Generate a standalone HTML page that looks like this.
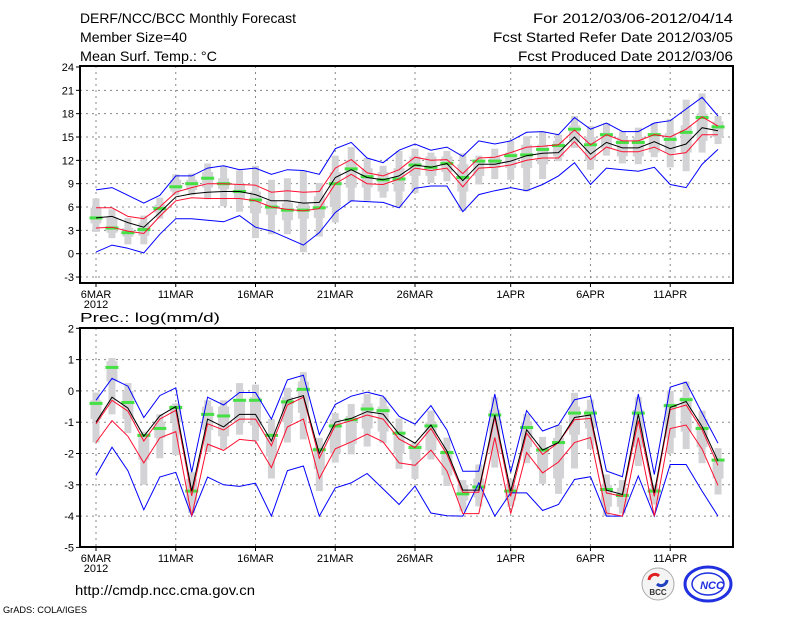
<!DOCTYPE html>
<html><head><meta charset="utf-8"><style>
html,body{margin:0;padding:0;background:#fff;}
svg{display:block;font-family:"Liberation Sans",sans-serif;}
</style></head><body>
<svg id="c" width="800" height="618" viewBox="0 0 800 618" xmlns="http://www.w3.org/2000/svg">
<text x="80" y="23" font-size="14" textLength="216" lengthAdjust="spacingAndGlyphs">DERF/NCC/BCC Monthly Forecast</text>
<text x="80" y="42" font-size="14" textLength="107" lengthAdjust="spacingAndGlyphs">Member Size=40</text>
<text x="80" y="61" font-size="14" textLength="137" lengthAdjust="spacingAndGlyphs">Mean Surf. Temp.: °C</text>
<text x="533" y="23" font-size="14" textLength="200" lengthAdjust="spacingAndGlyphs">For 2012/03/06-2012/04/14</text>
<text x="493" y="42" font-size="14" textLength="240" lengthAdjust="spacingAndGlyphs">Fcst Started Refer Date 2012/03/05</text>
<text x="518" y="61" font-size="14" textLength="215" lengthAdjust="spacingAndGlyphs">Fcst Produced Date 2012/03/06</text>
<text x="80" y="322" font-size="13" textLength="140" lengthAdjust="spacingAndGlyphs">Prec.: log(mm/d)</text>
<text x="75" y="595" font-size="14" textLength="180" lengthAdjust="spacingAndGlyphs">http://cmdp.ncc.cma.gov.cn</text>
<text x="3" y="613" font-size="9" textLength="84" lengthAdjust="spacingAndGlyphs">GrADS: COLA/IGES</text>
<g>
<circle cx="658" cy="584" r="16" fill="#f4f4f4" stroke="#aaa" stroke-width="1"/>
<path d="M649 580 a6 6 0 0 1 10 -4" stroke="#e02020" stroke-width="3" fill="none"/>
<path d="M667 580 a6 6 0 0 1 -10 4" stroke="#2040c0" stroke-width="3" fill="none"/>
<text x="658" y="595" font-size="8" font-weight="bold" text-anchor="middle" fill="#333">BCC</text>
</g>
<g>
<ellipse cx="708" cy="584" rx="23" ry="17" fill="#fff" stroke="#2030e0" stroke-width="3"/>
<ellipse cx="708" cy="584" rx="16" ry="11" fill="none" stroke="#2030e0" stroke-width="1.5"/>
<text x="712" y="589" font-size="11" font-weight="bold" font-style="italic" text-anchor="middle" fill="#2030e0">NCC</text>
</g>
</svg>
<script>
// ---- data: temperature panel ----
const days = 40;
const xLabels = ["6MAR","11MAR","16MAR","21MAR","26MAR","1APR","6APR","11APR"];
const xLabelDays = [0,5,10,15,20,26,31,36];
const tTicks = [-3,0,3,6,9,12,15,18,21,24];
const pTicks = [-5,-4,-3,-2,-1,0,1,2];
const tBlueHi = [8.2,8.5,7.5,6.5,7.5,10,10,11,11.3,10.8,11,10.2,10.8,10.7,10.2,13.5,14.3,12.3,11.7,13.3,14.1,13.3,13.7,12.5,14.5,14.1,14.5,15.6,15.7,15.3,17.5,16,16.8,15.7,15.7,16.8,17.1,18.6,20.1,17.7];
const tRedHi = [5.9,5.9,4.8,4.5,6,7.9,8.5,9,9,8.9,8.8,7.9,8.1,7.9,8,11,12.1,10.4,10,10.8,12.4,12,12.1,10.3,12.3,12.4,13,13.7,13.8,14,15.9,14,15.3,14.5,14.5,15.3,15,16,17.6,16.4];
const tMean = [4.6,4.8,4,3.4,5.3,7.3,7.7,7.9,8,8,7.6,6.8,6.8,6.5,6.6,9.8,10.8,9.8,9.5,10,11.4,11.1,11.6,9.4,11.5,11.5,11.9,12.6,12.9,13,15,12.8,14.3,13.6,13.6,14.4,13.5,14.1,16.2,15.8];
const tRedLo = [3.3,3.4,2.9,2.6,4.8,6.8,7.2,7.1,7.1,7.1,6.8,6,5.7,5.5,5.8,9,10.2,9,8.9,9.6,11,10.7,11,8.6,11,11.1,11.4,12,12.3,12.3,14.4,12.1,13.7,13.1,13.1,13.7,12.7,13,15.3,15.3];
const tBlueLo = [0.2,1.1,0.7,0.1,2.5,4.5,4.5,4.3,4.1,4.9,3.4,2.9,2,1.1,2.7,5.3,6.8,6.7,6.6,5.9,8.4,8.7,8.7,5.4,7.6,8.1,8.5,8.1,8.9,10,11.7,8.9,11,10.8,10.6,11.1,8.9,8.5,11.5,13.4];
const tObs = [4.6,3.3,2.7,3.1,5.8,8.6,9,9.7,9,8,6.9,6,5.6,5.6,5.9,9,10.9,9.9,9.5,9.6,11.4,11.1,11.6,9.8,11.9,11.9,12.6,12.7,13.4,13.9,16,14,15.3,14.3,14.3,15.3,14.7,15.6,17.5,16.3];
const tMin = [2.8,2,1.2,1.2,4.5,7.5,7.5,7,6.1,5.4,2,2.5,2.5,0.2,2.2,4,6.7,6.8,7.2,5.9,7.8,9.1,9.3,5.5,8.9,9.6,9.5,8,9.6,11.9,13.6,10.8,12.6,11.6,11.5,12.4,11.1,10.6,13,14.1];
const tQ1 = [3.9,2.7,2.2,2.3,5.3,8,8.2,8.5,8.3,7,5.2,5,4.3,4.5,4.6,6,8.5,8.5,8,8,10,10,10.5,8,10,11,11,11,11.5,12.5,14.5,12,13.5,12.5,12.5,13,13,13,14.5,15];
const tQ3 = [5.9,4.7,3.3,4,6.3,9.5,9.5,10.5,9.7,9,8,6.8,6.5,6.5,7.4,10.5,12,11,10.5,11,12.5,12.5,12.5,11.5,12,12.5,13,14,14,14.5,16.5,15,15.5,15,15,15.5,15.5,16.5,18,17];
const tMax = [7.1,5.7,4.6,4.9,7.2,10.2,10.3,11.6,11.2,10.7,11.3,9.5,9.7,10.7,9.1,12.6,13.7,12.3,11.3,13.2,13.5,13,13.2,12.9,12.6,13.5,14.5,15.1,15.7,15.3,17.7,16.4,16.8,15.7,16.2,16.8,17.3,19.8,20.6,17.7];
// ---- data: precipitation panel ----
const pBlueHi = [-0.3,0.4,0.15,-0.85,-0.15,0.1,-2.6,-0.2,-0.45,-0.05,-0.05,-0.9,0.35,0.5,-1.4,-0.43,-0.17,-0.04,-0.17,-0.81,-1.06,-0.47,-1.25,-2.57,-2.57,-0.1,-2.6,-0.63,-1.28,-1.09,-0.28,-0.17,-2.56,-2.74,-0.1,-2.67,0.12,0.28,-0.71,-1.67];
const pRedHi = [-1.05,-0.3,-0.65,-1.6,-0.9,-0.62,-3.35,-1.05,-1.25,-0.9,-0.9,-1.75,-0.45,-0.2,-2.15,-1.1,-0.95,-0.77,-0.9,-1.54,-1.81,-1.2,-2.03,-3.24,-3.24,-0.85,-3.37,-1.35,-2.03,-1.65,-0.92,-0.88,-3.26,-3.37,-0.95,-3.37,-0.6,-0.45,-1.24,-2.38];
const pMean = [-1,-0.2,-0.55,-1.45,-0.8,-0.5,-3.2,-0.9,-1.15,-0.75,-0.75,-1.6,-0.3,-0.15,-2,-1,-0.88,-0.66,-0.74,-1.38,-1.67,-1.09,-1.92,-3.17,-3.17,-0.77,-3.2,-1.24,-1.89,-1.65,-0.85,-0.77,-3.17,-3.31,-0.74,-3.26,-0.53,-0.34,-1.14,-2.24];
const pRedLo = [-1.65,-0.95,-1.45,-2.3,-1.5,-1.3,-4,-1.7,-1.9,-1.55,-1.6,-2.45,-1.15,-0.9,-2.8,-1.85,-1.63,-1.38,-1.63,-2.3,-2.38,-1.89,-2.56,-3.92,-3.92,-1.49,-3.92,-1.97,-2.62,-2.27,-1.65,-1.49,-3.9,-4,-1.49,-4,-1.2,-1.09,-1.86,-3.02];
const pBlueLo = [-2.7,-1.8,-2.55,-3.8,-2.75,-2.6,-4,-2.75,-3,-3.05,-2.95,-4,-2.55,-2.4,-4,-3.1,-2.94,-2.64,-3.13,-3.63,-3.04,-3.9,-3.99,-4,-2.94,-4,-3.26,-3.26,-3.82,-3.63,-2.83,-2.74,-4,-4,-2.72,-4,-2.35,-2.35,-3.2,-4];
const pObs = [-0.4,0.75,-0.37,-1.42,-1.2,-0.53,-3.2,-0.75,-0.8,-0.3,-0.3,-1.42,-0.35,0.05,-1.88,-1.12,-0.92,-0.58,-0.63,-1.35,-1.81,-1.12,-1.97,-3.29,-3.07,-0.77,-3.2,-1.17,-1.89,-1.65,-0.71,-0.71,-3.15,-3.34,-0.71,-3.2,-0.47,-0.28,-1.2,-2.21];
const pMin = [-1.65,-0.75,-1.35,-3,-2.15,-2.05,-3.9,-1.95,-1.85,-1.4,-1.6,-2.8,-1.65,-1.55,-3.2,-2.29,-2.03,-1.78,-1.67,-2.49,-2.81,-2.19,-3.04,-3.85,-3.69,-2.45,-3.7,-2.31,-2.97,-3.29,-2.48,-1.86,-4,-3.92,-2.4,-3.63,-2,-1.86,-2.31,-3.31];
const pQ1 = [-0.9,0.3,-0.9,-2.2,-1.5,-1,-3.6,-1.25,-1.45,-1,-1.1,-2.1,-1,-0.7,-2.5,-2,-1.7,-1.2,-1.3,-2,-2.2,-1.9,-2.7,-3.5,-3.4,-2,-3.5,-1.8,-2.5,-2.8,-1.4,-1.2,-3.7,-3.7,-1.8,-3.5,-1.5,-1.3,-1.8,-2.8];
const pQ3 = [-0.3,0.95,0,-1.4,-1,-0.45,-2.8,-0.5,-0.5,-0.3,-0.2,-1.5,-0.2,0.3,-1.8,-0.9,-0.8,-0.4,-0.5,-1.3,-1.7,-1,-1.9,-3,-2.8,-0.6,-3,-1,-1.8,-1.5,-0.5,-0.6,-3,-3.1,-0.6,-3.1,-0.4,-0.2,-0.9,-2.2];
const pMax = [-0.05,1.05,0.25,-1.3,-0.75,-0.4,-2.6,-0.3,-0.3,0.25,0.2,-0.9,0.1,0.6,-1.5,-0.71,-0.42,-0.1,-0.2,-0.88,-1.65,-0.63,-1.49,-2.85,-2.35,-0.2,-2.83,-0.74,-1.47,-1.09,-0.06,-0.28,-2.67,-2.85,-0.2,-2.99,0,0.3,-0.63,-1.83];

const NS = "http://www.w3.org/2000/svg";
const svg = document.getElementById("c");
const X0 = 80, X1 = 733;
const xS = i => 96 + i * 15.95;
const yT = v => 253.7 - v * 7.78;
const yP = v => 328.3 + (2 - v) * 31.3;
function mk(tag, attrs, parent) {
  const e = document.createElementNS(NS, tag);
  for (const k in attrs) e.setAttribute(k, attrs[k]);
  (parent || svg).appendChild(e);
  return e;
}
function panel(name, top, bot, ys, ticks, sets) {
  const g = mk("g", {});
  
  
  ticks.forEach(t => {
    const y = ys(t);
    if (y > top + 1 && y < bot - 1) {
      const l = mk("line", {x1: X0, x2: X1, y1: y, y2: y, stroke: "#888", "stroke-dasharray": "2,4", "stroke-width": 1}, g);
      
      
    }
    const tk = mk("line", {x1: X0 - 4, x2: X0, y1: y, y2: y, stroke: "#000"}, g);
    
    
    const tx = mk("text", {x: X0 - 6, y: y + 4, "font-size": 11, "text-anchor": "end"}, g);
    
    
    tx.textContent = t;
  });
  xLabelDays.forEach((d, k) => {
    const x = xS(d);
    const l = mk("line", {x1: x, x2: x, y1: top, y2: bot, stroke: "#888", "stroke-dasharray": "2,4"}, g);
    
    
    const tk = mk("line", {x1: x, x2: x, y1: bot, y2: bot + 4, stroke: "#000"}, g);
    
    
    const tx = mk("text", {x: x, y: bot + 15, "font-size": 11, "text-anchor": "middle"}, g);
    
    
    tx.textContent = xLabels[k];
  });
  const yr = mk("text", {x: 96, y: bot + 25, "font-size": 11, "text-anchor": "middle"}, g);
  
  
  yr.textContent = "2012";
  for (let i = 0; i < days; i++) {
    const x = xS(i);
    const w = mk("rect", {x: x - 3.5, y: ys(sets.max[i]), width: 7, height: ys(sets.min[i]) - ys(sets.max[i]), fill: "#d3d3d6"}, g);
    
    
    const b = mk("rect", {x: x - 5.5, y: ys(sets.q3[i]), width: 11, height: ys(sets.q1[i]) - ys(sets.q3[i]), fill: "#d3d3d6"}, g);
    
    
  }
  for (let i = 0; i < days; i++) {
    const r = mk("rect", {x: xS(i) - 6.5, y: ys(sets.obs[i]) - 1.5, width: 13, height: 3, fill: "#44e044"}, g);
    
    
  }
  const lines = [[sets.bhi, "#0000ff", "upper-blue-line"], [sets.blo, "#0000ff", "lower-blue-line"], [sets.rhi, "#ff1030", "upper-red-line"], [sets.rlo, "#ff1030", "lower-red-line"], [sets.mean, "#000", "ensemble-mean-line"]];
  lines.forEach(([arr, col, nm]) => {
    const pts = arr.map((v, i) => xS(i).toFixed(1) + "," + ys(v).toFixed(1)).join(" ");
    const p = mk("polyline", {points: pts, fill: "none", stroke: col, "stroke-width": 1}, g);
    
    
  });
  const f = mk("rect", {x: X0, y: top, width: X1 - X0, height: bot - top, fill: "none", stroke: "#000", "stroke-width": 2}, g);
  
  
}
panel("temperature-panel", 66, 283, yT, tTicks, {bhi: tBlueHi, rhi: tRedHi, mean: tMean, rlo: tRedLo, blo: tBlueLo, obs: tObs, min: tMin, q1: tQ1, q3: tQ3, max: tMax});
panel("precipitation-panel", 328, 547, yP, pTicks, {bhi: pBlueHi, rhi: pRedHi, mean: pMean, rlo: pRedLo, blo: pBlueLo, obs: pObs, min: pMin, q1: pQ1, q3: pQ3, max: pMax});
</script>
</body></html>
